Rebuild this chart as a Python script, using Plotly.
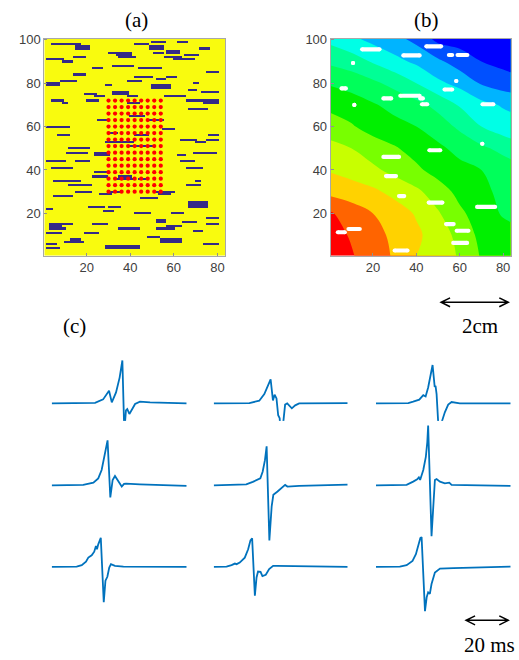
import plotly.graph_objects as go

W, H = 519, 660

# ---------------- panel (a): fibrosis map ----------------
# fibrotic strands as (x0, x1, y0, y1) grid cells (inclusive)
fibrosis_segments = [
    (4, 17, 98, 98), (15, 21, 96, 97), (2, 9, 91, 91), (9, 13, 90, 90), (14, 19, 92, 92),
    (30, 35, 94, 94), (34, 40, 93, 94), (35, 42, 92, 92), (32, 41, 88, 88), (23, 27, 87, 87),
    (14, 19, 84, 84), (8, 15, 81, 81), (2, 7, 79, 80), (29, 31, 79, 79), (19, 24, 75, 75),
    (24, 28, 74, 74), (32, 39, 75, 76), (39, 43, 74, 74), (4, 9, 72, 72), (9, 11, 71, 71),
    (20, 25, 72, 72), (25, 29, 63, 63), (2, 12, 60, 60), (7, 12, 56, 56), (12, 21, 50, 50),
    (11, 20, 48, 48), (24, 30, 47, 48), (15, 21, 44, 44), (2, 10, 44, 44), (4, 13, 41, 41),
    (24, 29, 39, 39), (23, 29, 37, 37), (5, 17, 35, 35), (12, 22, 33, 33), (15, 22, 30, 30),
    (5, 13, 28, 28), (26, 31, 29, 29), (21, 28, 23, 23), (30, 35, 23, 23), (28, 32, 21, 21),
    (2, 4, 22, 22), (3, 8, 14, 15), (3, 13, 15, 15), (3, 10, 13, 13), (2, 8, 11, 11),
    (13, 17, 8, 8), (10, 18, 7, 7), (2, 6, 6, 6), (2, 7, 4, 4), (19, 25, 11, 11),
    (23, 29, 15, 15), (29, 44, 4, 5), (35, 44, 13, 13), (42, 49, 20, 20), (48, 53, 9, 9),
    (52, 56, 16, 17), (54, 63, 7, 8), (57, 63, 14, 14), (52, 60, 13, 13), (64, 70, 16, 16),
    (69, 73, 12, 12), (75, 80, 15, 15), (75, 80, 18, 18), (74, 80, 6, 6), (59, 64, 20, 20),
    (45, 52, 27, 27), (67, 75, 23, 25), (66, 72, 33, 33), (70, 72, 35, 35), (53, 58, 29, 29),
    (66, 73, 41, 41), (63, 69, 44, 44), (62, 65, 47, 47), (69, 79, 48, 48), (63, 70, 54, 54),
    (70, 74, 53, 53), (75, 80, 54, 54), (76, 80, 56, 56), (67, 75, 68, 68), (66, 75, 72, 72),
    (74, 80, 71, 72), (73, 80, 76, 76), (67, 70, 77, 77), (69, 71, 80, 80), (56, 65, 74, 74),
    (50, 58, 78, 79), (52, 56, 82, 82), (57, 61, 83, 83), (42, 50, 83, 83), (44, 54, 87, 87),
    (39, 45, 81, 81), (60, 69, 91, 91), (65, 71, 93, 93), (56, 63, 92, 92), (57, 62, 94, 95),
    (51, 55, 94, 94), (42, 48, 98, 98), (49, 55, 96, 97), (50, 56, 99, 99), (62, 66, 99, 99),
    (72, 76, 96, 96), (75, 80, 85, 85), (48, 55, 63, 63), (55, 60, 59, 59), (39, 44, 71, 71),
    (40, 46, 65, 65), (42, 48, 56, 56), (30, 34, 57, 57), (29, 41, 53, 53), (40, 51, 51, 51),
    (35, 40, 37, 37), (30, 36, 30, 30), (33, 41, 36, 36), (44, 48, 36, 36), (52, 60, 30, 30),
]
N_COLS, N_ROWS = 83, 100

# recording electrodes (red dots)
elec_x = [30, 33, 36, 39, 42, 45, 48, 51, 54]
elec_y = [30, 33, 36, 39, 42, 45, 48, 51, 54, 57, 60, 63, 66, 69, 72]

# ---------------- panel (b): activation map ----------------
act_x = [0.5, 10, 20, 30, 40, 50, 60, 70, 80, 83.5]
act_y = [0.5, 10, 20, 30, 40, 50, 60, 70, 80, 90, 100.5]
act_level = [
    [0.0, 0.4, 1.1, 1.6, 2.5, 3.0, 3.6, 4.6, 5.0, 5.1],
    [0.1, 0.6, 1.2, 1.7, 2.3, 3.0, 3.8, 4.8, 5.1, 5.2],
    [0.4, 1.0, 1.5, 2.0, 2.6, 3.4, 4.3, 5.0, 5.6, 5.7],
    [1.8, 2.0, 2.3, 2.8, 3.3, 4.0, 4.8, 5.3, 5.7, 5.8],
    [2.6, 2.9, 3.3, 3.8, 4.3, 4.9, 5.2, 5.5, 5.9, 6.0],
    [3.2, 3.5, 4.0, 4.4, 4.9, 5.3, 5.8, 6.3, 6.8, 7.0],
    [4.0, 4.4, 4.9, 5.2, 5.5, 6.0, 6.7, 7.5, 8.0, 8.1],
    [4.8, 5.0, 5.4, 5.8, 6.2, 6.8, 7.6, 8.2, 8.6, 8.7],
    [5.6, 5.9, 6.3, 6.8, 7.5, 8.3, 8.8, 9.6, 10.0, 10.1],
    [6.7, 7.0, 7.6, 8.2, 8.7, 9.3, 10.0, 10.5, 10.8, 10.9],
    [7.8, 8.3, 8.8, 9.2, 9.8, 10.8, 10.9, 11.0, 11.0, 11.0],
]
act_colors = ["#ff0000", "#ff6400", "#ffd200", "#c8ff00", "#78ff00", "#00f000",
              "#00ff5a", "#00ff96", "#00ffe6", "#00b4ff", "#0050ff", "#0000ff"]

# non-activated (white) spots: (x0, x1, y)
holes = [
    (15, 23, 95.6), (34, 41.5, 92.8), (44.6, 51.4, 97), (55, 56.5, 93), (59, 63.5, 93),
    (10.8, 10.8, 89.3), (5.5, 7.5, 77.6), (58.4, 58.4, 81), (53, 56.5, 77.1), (24.8, 28.4, 73),
    (32.6, 41.5, 74.2), (41.8, 43, 73), (42.6, 45, 70.3), (11.4, 11.4, 70), (70.5, 75.5, 70.3),
    (46, 51, 49.1), (70.4, 70.4, 52.1), (24.8, 32, 46), (26, 30.6, 37.2), (32, 34.4, 28),
    (45.7, 52, 25), (68, 76.3, 23), (53.7, 57.2, 15.1), (58.6, 64, 12), (57, 63.4, 6.4),
    (3.8, 7, 11.3), (8.7, 13.9, 12.8), (30, 35.9, 2.9),
]

# ---------------- panel (c): electrograms (ms, a.u.), row-major 3x3 ----------------
egm_times = [
    [0, 20.5, 24.3, 27.1, 28.4, 30.4, 32.1, 33.4, 34.3, 35.1, 35.7, 36.7, 38.0, 39.4, 41.7, 46.5, 63.8],
    [0, 17.0, 21.7, 24.1, 27.1, 28.2, 29.0, 29.9, 30.7, 31.4, 32.2, 33.1, 34.0, 35.0, 37.2, 38.8, 40.7, 63.8],
    [0, 15.3, 17.6, 20.5, 22.4, 23.5, 24.7, 25.9, 26.8, 27.8, 28.2, 28.7, 29.6, 31.1, 32.6, 34.2, 35.8, 39.7, 63.8],
    [0, 14.9, 19.7, 22.0, 23.6, 24.9, 26.4, 27.7, 28.8, 29.9, 31.5, 33.1, 34.2, 35.1, 41.7, 63.8],
    [0, 15.5, 18.6, 20.9, 22.2, 23.3, 24.4, 25.2, 26.5, 27.6, 28.4, 30.4, 32.0, 34.0, 35.1, 40.7, 63.8],
    [0, 14.5, 17.6, 19.5, 20.3, 20.9, 22.4, 23.6, 24.3, 24.7, 26.3, 27.2, 27.9, 28.7, 30.3, 32.6, 34.7, 35.8, 63.8],
    [0, 11.8, 14.2, 16.2, 17.3, 18.9, 20.1, 20.9, 21.4, 22.0, 23.2, 24.6, 25.4, 26.3, 27.2, 28.0, 29.9, 33.9, 63.8],
    [0, 6.1, 8.5, 10.1, 10.9, 12.4, 14.8, 16.4, 17.5, 18.3, 19.6, 20.4, 21.1, 22.3, 23.2, 24.8, 26.4, 28.3, 29.9, 63.8],
    [0, 11.3, 14.5, 17.3, 18.9, 20.0, 21.0, 21.6, 23.2, 24.0, 24.7, 25.5, 26.3, 27.9, 30.3, 36.6, 63.8],
]
egm_values = [
    [0, 0.05, 0.4, 1.27, 0.1, 1.1, 2.6, 4.33, -2.9, -0.7, -0.57, -1.07, -0.6, -0.07, 0.17, 0.1, 0],
    [0, 0.03, 0.27, 0.93, 2.43, 0.3, 0.87, 0.5, -1.2, -1.5, -3.78, -1.57, -0.13, 0, -0.5, -0.2, 0, 0.03],
    [0, 0.03, 0.17, 0.37, 0.83, 0.7, 1.6, 2.77, 3.87, 1.67, 1.77, 0.93, -2.45, -1.9, -0.9, -0.13, 0.13, 0, 0],
    [0, 0.04, 0.27, 0.7, 1.54, 2.87, 4.54, -1.23, 0.54, 0.94, 0.37, -0.13, 0.14, 0.17, 0.1, -0.06],
    [0, 0.1, 0.34, 0.6, 0.7, 1.37, 2.54, 3.94, -5.56, -2.13, -0.96, -0.63, -0.3, 0.04, -0.13, -0.06, 0.07],
    [0, 0.04, 0.37, 0.6, 0.8, 0.54, 1.54, 2.87, 4.37, 6.04, -5.13, -1.63, 0.54, 0.64, 0.37, 0.2, 0.27, 0.04, -0.06],
    [0, 0.03, 0.17, 0.53, 0.93, 1.17, 1.53, 2.1, 1.77, 2.27, 2.93, -3.57, -1.4, -1.0, -0.07, 0.27, 0.1, 0.03, 0],
    [0, 0.03, 0.17, 0.33, 0.27, 0.43, 0.93, 1.77, 2.67, 2.87, -2.9, -1.07, -0.47, -0.5, -0.93, -0.8, -0.23, 0.1, 0.1, 0],
    [0, 0.03, 0.17, 0.6, 1.27, 2.1, 2.9, 3.0, -4.47, -3.07, -2.57, -2.73, -1.73, -0.57, -0.17, -0.13, 0.03],
]
T_SPAN = 63.8
SCALE_MS = 20
SCALE_GRID_UNITS = 31  # 2 cm in grid units

# ---------------- geometry (pixels) ----------------
A_X = (44.3, 225.0)
B_X = (330.7, 510.7)
MAP_Y = (33.0, 252.0)
COL_X = [(51.7, 186.7), (213.7, 347.7), (376.0, 510.7)]
ROW_BASE = [401.0, 483.7, 566.0]
HALF = 65.0
V_RANGE = 6.5


def pxd(a, b):
    return [a / W, b / W]


def pyd(top, bottom):
    return [1 - bottom / H, 1 - top / H]


fig = go.Figure()

# (a) fibrosis heatmap built from the segments
z = [[0] * N_COLS for _ in range(N_ROWS)]
for x0, x1, y0, y1 in fibrosis_segments:
    for yy in range(y0, y1 + 1):
        for xx in range(x0, x1 + 1):
            if 1 <= xx <= N_COLS and 1 <= yy <= N_ROWS:
                z[yy - 1][xx - 1] = 1
fig.add_trace(go.Heatmap(
    x=list(range(1, N_COLS + 1)), y=list(range(1, N_ROWS + 1)), z=z,
    zmin=0, zmax=1, colorscale=[[0, "#f9fb0e"], [1, "#352a87"]],
    showscale=False, hoverinfo="skip", xaxis="x", yaxis="y"))
ex, ey = [], []
for yv in elec_y:
    for xv in elec_x:
        ex.append(xv)
        ey.append(yv)
fig.add_trace(go.Scatter(x=ex, y=ey, mode="markers",
                         marker=dict(color="#ff0000", size=4.2, line_width=0),
                         hoverinfo="skip", xaxis="x", yaxis="y"))

# (b) activation map
n = len(act_colors)
cs = []
for i, c in enumerate(act_colors):
    cs.append([i / n, c])
    cs.append([(i + 1) / n, c])
fig.add_trace(go.Contour(
    x=act_x, y=act_y, z=act_level, zmin=-0.5, zmax=n - 0.5,
    contours=dict(start=0.5, end=n - 1.5, size=1, coloring="fill", showlines=False),
    line=dict(width=0), colorscale=cs, showscale=False, hoverinfo="skip",
    xaxis="x2", yaxis="y2"))
hx, hy = [], []
for x0, x1, yv in holes:
    hx += [x0, x1, None]
    hy += [yv, yv, None]
fig.add_trace(go.Scatter(x=hx, y=hy, mode="lines+markers",
                         line=dict(color="white", width=4.2),
                         marker=dict(color="white", size=4.2, line_width=0),
                         hoverinfo="skip", xaxis="x2", yaxis="y2"))

# (c) electrograms
for k in range(9):
    idx = k + 3
    fig.add_trace(go.Scatter(x=egm_times[k], y=egm_values[k], mode="lines",
                             line=dict(color="#0072bd", width=1.8),
                             hoverinfo="skip", xaxis="x%d" % idx, yaxis="y%d" % idx))

tickfont = dict(family="Liberation Sans, Arial, sans-serif", size=13, color="#404040")
map_ax = dict(showgrid=False, zeroline=False, showline=True, mirror=True,
              linecolor="#a8a8a8", linewidth=1, ticks="inside", ticklen=3,
              tickcolor="#909090", tickfont=tickfont)
layout = dict(
    width=W, height=H, margin=dict(l=0, r=0, t=0, b=0),
    paper_bgcolor="white", plot_bgcolor="white", showlegend=False,
    xaxis=dict(map_ax, domain=pxd(*A_X), range=[0.5, 83.5], tickvals=[20, 40, 60, 80], anchor="y"),
    yaxis=dict(map_ax, domain=pyd(*MAP_Y), range=[0.5, 100.5], tickvals=[20, 40, 60, 80, 100], anchor="x"),
    xaxis2=dict(map_ax, domain=pxd(*B_X), range=[0.5, 83.5], tickvals=[20, 40, 60, 80], anchor="y2"),
    yaxis2=dict(map_ax, domain=pyd(*MAP_Y), range=[0.5, 100.5], tickvals=[20, 40, 60, 80, 100], anchor="x2"),
)
for k in range(9):
    r, c = divmod(k, 3)
    idx = k + 3
    layout["xaxis%d" % idx] = dict(domain=pxd(*COL_X[c]), range=[0, T_SPAN], visible=False,
                                   anchor="y%d" % idx)
    layout["yaxis%d" % idx] = dict(domain=pyd(ROW_BASE[r] - HALF, ROW_BASE[r] + HALF),
                                   range=[-V_RANGE, V_RANGE], visible=False, anchor="x%d" % idx)
fig.update_layout(**layout)

serif = dict(family="Liberation Serif, Times New Roman, serif", size=21, color="black")


def label(text, x, y):
    fig.add_annotation(text=text, x=x / W, y=1 - y / H, xref="paper", yref="paper",
                       showarrow=False, font=serif, xanchor="center", yanchor="middle")


label("(a)", 136, 14)
label("(b)", 426, 14)
label("(c)", 74, 323)
label("2cm", 480, 323)
label("20 ms", 489, 645)


def double_arrow(x0, x1, y, head=9.0, half=4.5):
    def P(px, py):
        return "%.5f,%.5f" % (px / W, 1 - py / H)
    path = ("M" + P(x0, y) + " L" + P(x1, y) +
            " M" + P(x0 + head, y - half) + " L" + P(x0, y) + " L" + P(x0 + head, y + half) +
            " M" + P(x1 - head, y - half) + " L" + P(x1, y) + " L" + P(x1 - head, y + half))
    fig.add_shape(type="path", path=path, xref="paper", yref="paper",
                  line=dict(color="black", width=1.5))


# scale bars derived from the axis scales
px_per_unit_b = (B_X[1] - B_X[0]) / 83.0
cm_len = SCALE_GRID_UNITS * px_per_unit_b
double_arrow(508.3 - cm_len, 508.3, 299)
px_per_ms = (COL_X[2][1] - COL_X[2][0]) / T_SPAN
ms_len = SCALE_MS * px_per_ms
double_arrow(508.3 - ms_len, 508.3, 620)

fig.write_html("out.html", config={"displayModeBar": False},
               post_script="document.body.style.margin='0';")
